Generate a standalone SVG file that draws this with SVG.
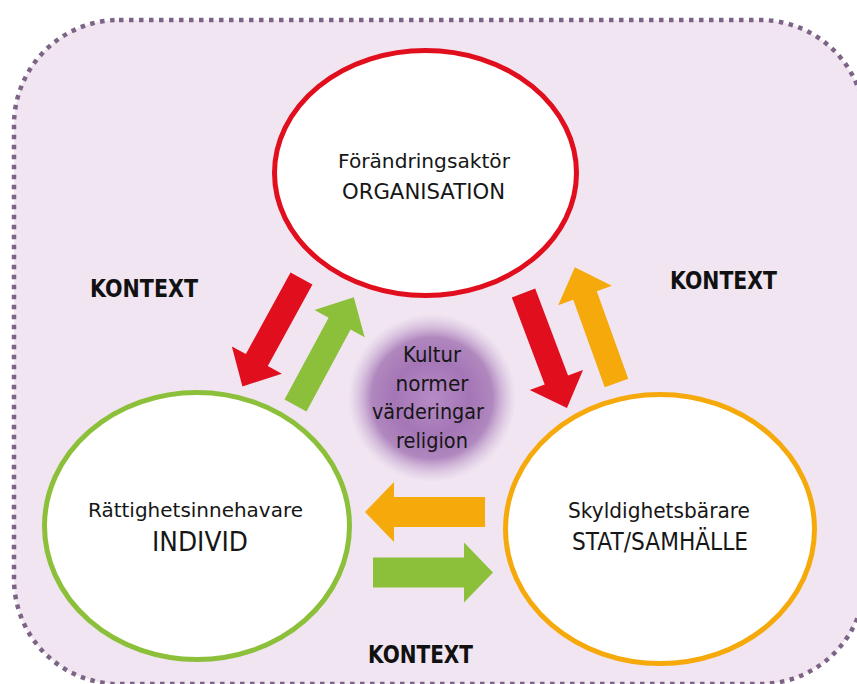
<svg xmlns="http://www.w3.org/2000/svg" xmlns:xlink="http://www.w3.org/1999/xlink" width="857" height="684" viewBox="0 0 857 684">
<style>
.t{font-family:"DejaVu Sans","Open Sans",sans-serif;fill:#161616;text-anchor:middle}
.k{font-family:"DejaVu Sans","Open Sans",sans-serif;font-weight:bold;fill:#111;text-anchor:middle;font-size:25px}
.node{fill:#fff;stroke-width:5}
</style>
<defs>
<radialGradient id="blob" cx="0.5" cy="0.5" r="0.5">
<stop offset="0" stop-color="#b68bc6"/>
<stop offset="0.45" stop-color="#a576b6"/>
<stop offset="0.72" stop-color="#a070b2" stop-opacity="0.8"/>
<stop offset="1" stop-color="#c6a6d1" stop-opacity="0"/>
</radialGradient>
<polygon id="arr" points="0,-12.5 93,-12.5 93,-28.5 123,0 93,28.5 93,12.5 0,12.5"/>
<polygon id="harr" points="0,-15 91,-15 91,-30 120,0 91,30 91,15 0,15"/>
</defs>
<rect x="0" y="0" width="857" height="684" fill="#ffffff"/>
<rect id="frame" x="14" y="20" width="851" height="664" rx="105" ry="105" fill="#f0e5f1" stroke="#7d6487" stroke-width="4.5" stroke-dasharray="4.5 5.5"/>
<g id="kultur">
<circle cx="432" cy="398" r="84" fill="url(#blob)"/>
<text class="t" x="432" y="362" font-size="22" textLength="58" lengthAdjust="spacingAndGlyphs">Kultur</text>
<text class="t" x="432" y="391" font-size="22" textLength="73" lengthAdjust="spacingAndGlyphs">normer</text>
<text class="t" x="428" y="419" font-size="22" textLength="112" lengthAdjust="spacingAndGlyphs">värderingar</text>
<text class="t" x="432" y="448" font-size="22" textLength="72" lengthAdjust="spacingAndGlyphs">religion</text>
</g>
<g id="connectors">
<use xlink:href="#arr" fill="#e10f1d" transform="translate(301.5,278.5) rotate(118.7)"/>
<use xlink:href="#arr" fill="#8dc03a" transform="translate(295.5,405.5) rotate(-61.7)"/>
<use xlink:href="#arr" fill="#e10f1d" transform="translate(523.5,293) rotate(69.3)"/>
<use xlink:href="#arr" fill="#f5a90a" transform="translate(616.5,383) rotate(-109.8)"/>
<use xlink:href="#harr" fill="#f5a90a" transform="translate(485,512) rotate(180)"/>
<use xlink:href="#harr" fill="#8dc03a" transform="translate(373,572.5)"/>
</g>
<g id="organisation">
<ellipse class="node" cx="425.5" cy="173" rx="151" ry="122.5" stroke="#e10f1d"/>
<text class="t" x="424" y="168" font-size="20" textLength="172" lengthAdjust="spacingAndGlyphs">Förändringsaktör</text>
<text class="t" x="423.5" y="199" font-size="22" textLength="163" lengthAdjust="spacingAndGlyphs">ORGANISATION</text>
</g>
<g id="individ">
<ellipse class="node" cx="197" cy="526" rx="152.5" ry="133.5" stroke="#8dc03a"/>
<text class="t" x="195.5" y="517" font-size="20" textLength="215" lengthAdjust="spacingAndGlyphs">Rättighetsinnehavare</text>
<text class="t" x="200" y="551" font-size="27" textLength="96" lengthAdjust="spacingAndGlyphs">INDIVID</text>
</g>
<g id="stat">
<ellipse class="node" cx="660" cy="529" rx="154.5" ry="134.5" stroke="#f5a90a"/>
<text class="t" x="659" y="518" font-size="21" textLength="182" lengthAdjust="spacingAndGlyphs">Skyldighetsbärare</text>
<text class="t" x="660" y="550" font-size="24" textLength="176" lengthAdjust="spacingAndGlyphs">STAT/SAMHÄLLE</text>
</g>
<g id="labels">
<text class="k" x="144" y="297" textLength="108" lengthAdjust="spacingAndGlyphs">KONTEXT</text>
<text class="k" x="723.5" y="289" textLength="107" lengthAdjust="spacingAndGlyphs">KONTEXT</text>
<text class="k" x="420.5" y="663" textLength="105" lengthAdjust="spacingAndGlyphs">KONTEXT</text>
</g>
</svg>
